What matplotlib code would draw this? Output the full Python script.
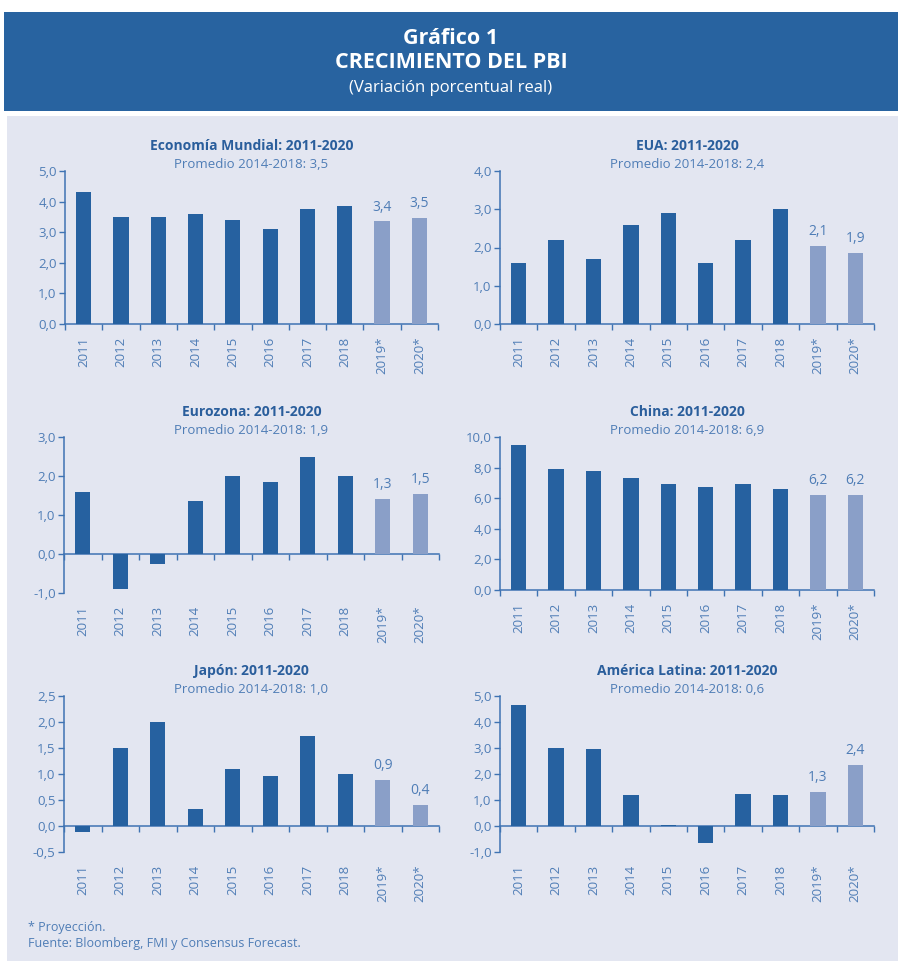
import matplotlib
matplotlib.use("Agg")
import matplotlib.pyplot as plt
import numpy as np
from matplotlib.patches import Rectangle

W, H = 902, 961
plt.rcParams['font.family'] = ['Open Sans', 'DejaVu Sans']

years = ["2011", "2012", "2013", "2014", "2015", "2016", "2017", "2018", "2019*", "2020*"]

mundial = [4.3, 3.5, 3.5, 3.6, 3.4, 3.1, 3.75, 3.85, 3.35, 3.45]
eua = [1.6, 2.2, 1.7, 2.6, 2.9, 1.6, 2.2, 3.0, 2.05, 1.85]
eurozona = [1.6, -0.9, -0.25, 1.35, 2.0, 1.85, 2.5, 2.0, 1.4, 1.55]
china = [9.5, 7.9, 7.8, 7.3, 6.9, 6.7, 6.9, 6.6, 6.2, 6.2]
japon = [-0.12, 1.5, 2.0, 0.33, 1.1, 0.96, 1.74, 1.0, 0.88, 0.4]
latam = [4.65, 3.0, 2.95, 1.18, 0.05, -0.65, 1.25, 1.19, 1.3, 2.35]

labels_mundial = ["3,4", "3,5"]
labels_eua = ["2,1", "1,9"]
labels_eurozona = ["1,3", "1,5"]
labels_china = ["6,2", "6,2"]
labels_japon = ["0,9", "0,4"]
labels_latam = ["1,3", "2,4"]

titles = ["Economía Mundial: 2011-2020", "EUA: 2011-2020", "Eurozona: 2011-2020",
          "China: 2011-2020", "Japón: 2011-2020", "América Latina: 2011-2020"]
subtitles = ["Promedio 2014-2018: 3,5", "Promedio 2014-2018: 2,4", "Promedio 2014-2018: 1,9",
             "Promedio 2014-2018: 6,9", "Promedio 2014-2018: 1,0", "Promedio 2014-2018: 0,6"]

DARK = "#2661A0"
LIGHT = "#8A9FC8"
TXT = "#4F7DB6"
TITLE = "#2A5E9C"
SPINE = "#3F73B3"
BG = "#E3E6F1"
HEADER = "#2863A0"

fig = plt.figure(figsize=(W / 100, H / 100), dpi=100)
fig.patch.set_facecolor("white")

def rect(l, t, r, b):
    return [l / W, 1 - b / H, (r - l) / W, (b - t) / H]

# header band and panel background
fig.patches.append(Rectangle((4 / W, 1 - 111 / H), 894 / W, 99 / H, transform=fig.transFigure,
                             facecolor=HEADER, edgecolor="none", zorder=-10))
fig.patches.append(Rectangle((7 / W, 0), 891 / W, 1 - 116 / H, transform=fig.transFigure,
                             facecolor=BG, edgecolor="none", zorder=-10))

fig.text(451 / W, 1 - 38 / H, "Gráfico 1", ha="center", va="center", color="white",
         fontsize=15.5, fontweight="bold")
fig.text(451 / W, 1 - 63 / H, "CRECIMIENTO DEL PBI", ha="center", va="center", color="white",
         fontsize=15.5, fontweight="bold")
fig.text(451 / W, 1 - 88 / H, "(Variación porcentual real)", ha="center", va="center",
         color="white", fontsize=12)

panels = [
    (rect(65, 171, 438, 324), mundial, labels_mundial, (0, 5), 1.0),
    (rect(500, 171, 874, 324), eua, labels_eua, (0, 4), 1.0),
    (rect(64, 437, 439, 593), eurozona, labels_eurozona, (-1, 3), 1.0),
    (rect(500, 437, 874, 590), china, labels_china, (0, 10), 2.0),
    (rect(64, 696, 439, 852), japon, labels_japon, (-0.5, 2.5), 0.5),
    (rect(500, 696, 874, 852), latam, labels_latam, (-1, 5), 1.0),
]

for i, (pos, vals, lbls, ylim, step) in enumerate(panels):
    ax = fig.add_axes(pos)
    ax.set_facecolor("none")
    x = np.arange(len(years))
    colors = [DARK] * 8 + [LIGHT] * 2
    ax.bar(x, vals, width=0.41, color=colors, edgecolor="none", zorder=2)
    ax.set_xlim(-0.5, len(years) - 0.5)
    ax.set_ylim(*ylim)
    yt = np.arange(ylim[0], ylim[1] + step / 2, step)
    ax.set_yticks(yt)
    ax.set_yticklabels([f"{v:.1f}".replace(".", ",") for v in yt], color=TXT, fontsize=9.5)
    ax.tick_params(axis="y", direction="out", length=4, width=1, color=SPINE, pad=2)
    for s in ["top", "right", "bottom"]:
        ax.spines[s].set_visible(False)
    ax.spines["left"].set_color(SPINE)
    ax.spines["left"].set_linewidth(1.1)

    ax.set_xticks(x)
    ax.set_xticklabels(years, rotation=90, color=TXT, fontsize=9.5, va="top", ha="center")
    ax.tick_params(axis="x", length=0, pad=9)

    frac = (0 - ylim[0]) / (ylim[1] - ylim[0])
    sec = ax.secondary_xaxis(frac)
    sec.set_xticks(np.arange(-0.5, len(years), 1.0))
    sec.tick_params(axis="x", direction="out", length=4, width=1, color=SPINE, labelbottom=False)
    sec.spines["bottom"].set_color(SPINE)
    sec.spines["bottom"].set_linewidth(1.1)

    for j, lab in zip([8, 9], lbls):
        ax.annotate(lab, (x[j], vals[j]), xytext=(0, 5), textcoords="offset points",
                    ha="center", va="bottom", color=TXT, fontsize=10)

    ax.text(0.5, 1.0, subtitles[i], transform=ax.transAxes, ha="center", va="bottom",
            color=TXT, fontsize=9.5)
    ax.annotate(titles[i], (0.5, 1.0), xycoords="axes fraction", xytext=(0, 13),
                textcoords="offset points", ha="center", va="bottom", color=TITLE,
                fontsize=10, fontweight="bold")

fig.text(28 / W, 1 - 928 / H, "* Proyección.", ha="left", va="center", color=TXT, fontsize=9)
fig.text(28 / W, 1 - 944 / H, "Fuente: Bloomberg, FMI y Consensus Forecast.", ha="left",
         va="center", color=TXT, fontsize=9)

fig.savefig("out.png", dpi=100, facecolor=fig.get_facecolor())
